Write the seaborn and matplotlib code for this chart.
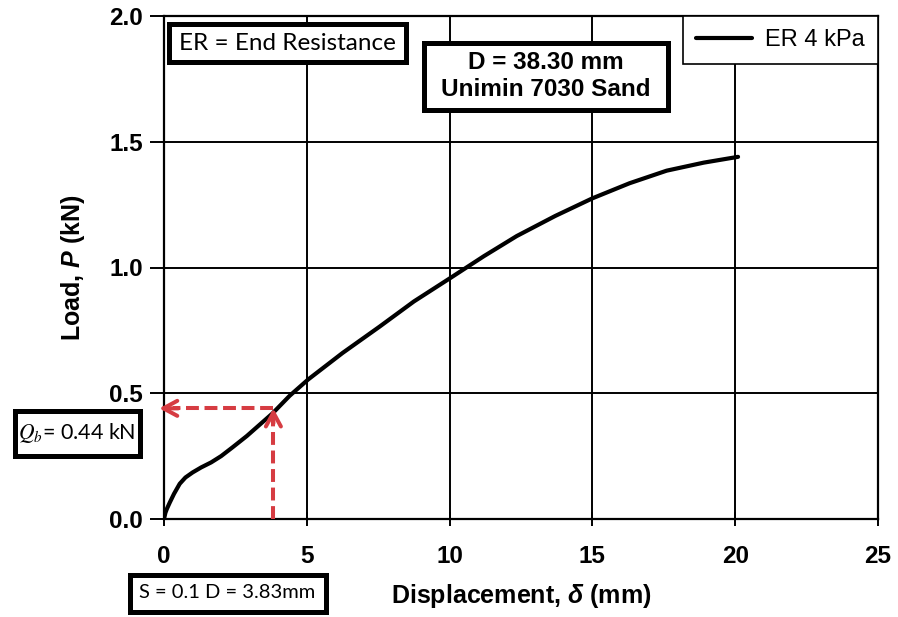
import matplotlib
matplotlib.use("Agg")
import matplotlib.pyplot as plt
from matplotlib.patches import Rectangle, FancyArrowPatch
import seaborn as sns
import pandas as pd

# Load-displacement record (end resistance test)
displacement_mm = [0.0, 0.05, 0.1, 0.2, 0.35, 0.55, 0.75, 1.0, 1.3, 1.65, 2.0, 2.4,
                   2.9, 3.35, 3.8, 4.4, 5.05, 6.25, 7.55, 8.75, 10.05, 11.2, 12.35,
                   13.7, 15.0, 16.3, 17.6, 18.9, 20.1]
load_kN = [0.0, 0.025, 0.04, 0.065, 0.10, 0.14, 0.165, 0.185, 0.205, 0.225, 0.25, 0.285,
           0.33, 0.375, 0.42, 0.49, 0.555, 0.66, 0.765, 0.865, 0.96, 1.045, 1.125,
           1.205, 1.275, 1.335, 1.385, 1.417, 1.44]
series_label = "ER 4 kPa"

x_ticks = [0, 5, 10, 15, 20, 25]
y_ticks = [0.0, 0.5, 1.0, 1.5, 2.0]

settlement_mm = 3.83      # S = 0.1 D
capacity_kN = 0.44        # Q_b read at S

sns.set_style("ticks")
plt.rcParams["font.family"] = ["Liberation Sans", "DejaVu Sans"]
plt.rcParams["text.color"] = "black"
plt.rcParams["axes.labelcolor"] = "black"
plt.rcParams["mathtext.fontset"] = "custom"
plt.rcParams["mathtext.it"] = "Liberation Sans:italic:bold"
plt.rcParams["mathtext.rm"] = "Liberation Sans:bold"
plt.rcParams["mathtext.bf"] = "Liberation Sans:bold"

W, H = 898, 617
fig = plt.figure(figsize=(W / 100, H / 100), dpi=100)
fig.patch.set_facecolor("white")
ax = fig.add_axes([164 / W, 1 - 519 / H, (878 - 164) / W, (519 - 16) / H])

df = pd.DataFrame({"disp": displacement_mm, "load": load_kN})
sns.lineplot(data=df, x="disp", y="load", ax=ax, color="black", lw=3.0,
             label=series_label, sort=False, estimator=None, zorder=4)

ax.set_xlim(0, 25)
ax.set_ylim(0, 2.0)
ax.set_xticks(x_ticks)
ax.set_yticks(y_ticks)
ax.set_xticklabels([f"{v:d}" for v in x_ticks])
ax.set_yticklabels([f"{v:.1f}" for v in y_ticks])
ax.grid(True, color="black", lw=1.4)
ax.set_axisbelow(True)
for sp in ax.spines.values():
    sp.set_visible(True)
    sp.set_color("black")
    sp.set_linewidth(1.6)
ax.tick_params(axis="y", direction="out", length=10, width=1.4, pad=5,
               labelsize=17.5, colors="black")
ax.tick_params(axis="x", direction="inout", length=10, width=1.4, pad=14,
               labelsize=17.5, colors="black")
for lab in ax.get_xticklabels() + ax.get_yticklabels():
    lab.set_fontweight("bold")

ax.set_xlabel(r"Displacement, $\delta$ (mm)", fontsize=18, fontweight="bold",
              labelpad=10, color="black")
ax.set_ylabel(r"Load, $P$ (kN)", fontsize=18, fontweight="bold", labelpad=16,
              color="black")

leg = ax.legend(loc="upper right", bbox_to_anchor=(1.0, 1.0), borderaxespad=0,
                fancybox=False, frameon=True, framealpha=1, edgecolor="black",
                fontsize=17, handlelength=2.4, handletextpad=0.55, borderpad=0.55)
leg.get_frame().set_linewidth(1.2)
for t in leg.get_texts():
    t.set_color("black")

# Red dashed guide lines with open arrowheads
red = "#d63c42"
ax.plot([settlement_mm, 0.3], [capacity_kN, capacity_kN], color=red, lw=2.9,
        ls=(0, (3.2, 1.4)), clip_on=False, zorder=5)
ax.plot([settlement_mm, settlement_mm], [0.0, capacity_kN - 0.03], color=red, lw=2.9,
        ls=(0, (3.2, 1.4)), clip_on=False, zorder=5)
head = "->,head_length=10,head_width=5.4"
ax.add_patch(FancyArrowPatch((0.5, capacity_kN), (-0.17, capacity_kN), arrowstyle=head,
                             mutation_scale=1, color=red, lw=2.9, shrinkA=0, shrinkB=0,
                             clip_on=False, zorder=5))
ax.add_patch(FancyArrowPatch((settlement_mm, capacity_kN - 0.06), (settlement_mm, capacity_kN),
                             arrowstyle=head, mutation_scale=1, color=red, lw=2.9,
                             shrinkA=0, shrinkB=0, clip_on=False, zorder=5))


def boxed_note(x0, y0, x1, y1, lw_px, text, cx=None, cy=None, **kw):
    """Draw a white box with a heavy black frame (pixel coordinates, origin top-left)."""
    inset = lw_px / 2
    rect = Rectangle(((x0 + inset) / W, 1 - (y1 - inset) / H),
                     (x1 - x0 - lw_px) / W, (y1 - y0 - lw_px) / H,
                     transform=fig.transFigure, facecolor="white", edgecolor="black",
                     lw=lw_px * 0.72, zorder=10)
    fig.add_artist(rect)
    cx = (x0 + x1) / 2 if cx is None else cx
    cy = (y0 + y1) / 2 if cy is None else cy
    fig.text(cx / W, 1 - cy / H, text, ha="center", va="center", zorder=11,
             color="black", **kw)


boxed_note(166, 22, 408, 64, 5, "ER = End Resistance", family="Lato", fontsize=17.5)
boxed_note(421, 40, 670, 112, 5, "D = 38.30 mm\nUnimin 7030 Sand", family="Liberation Sans",
           fontsize=17.5, fontweight="bold", linespacing=1.22)
boxed_note(12, 408, 142, 458, 5, r"$Q_b$= 0.44 kN", family="Lato", fontsize=15.5,
           math_fontfamily="stix")
boxed_note(127, 572, 328, 614, 5, "S = 0.1 D = 3.83mm", family="Lato", fontsize=14.5)

fig.savefig("out.png", dpi=100, facecolor="white")
